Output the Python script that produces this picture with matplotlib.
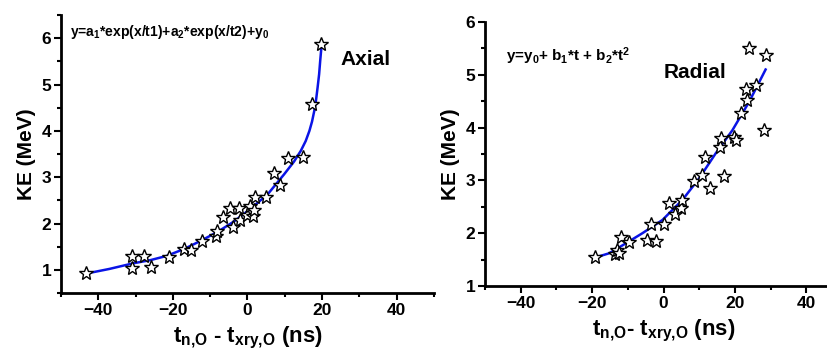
#!/usr/bin/env python3
"""Kinetic energy vs. time-of-flight difference, axial and radial detectors."""

import matplotlib

matplotlib.use("Agg")
import matplotlib.pyplot as plt
from matplotlib.ticker import MultipleLocator

plt.rcParams["font.family"] = ["Liberation Sans", "DejaVu Sans"]
plt.rcParams["font.weight"] = "bold"
plt.rcParams["mathtext.fontset"] = "custom"
plt.rcParams["mathtext.rm"] = "Liberation Sans:bold"
plt.rcParams["mathtext.bf"] = "Liberation Sans:bold"
plt.rcParams["mathtext.it"] = "Liberation Sans:bold"

# Axial data (left panel)
axial_t = [-43.2, -31.0, -31.0, -27.8, -25.8, -21.0, -17.0, -15.2, -12.2,
           -8.4, -8.2, -6.6, -4.6, -4.0, -2.3, -2.1, -0.1, 0.8, 1.4, 1.7,
           1.9, 4.9, 7.1, 8.7, 10.9, 14.8, 17.2, 19.7]
axial_ke = [0.94, 1.30, 1.03, 1.30, 1.07, 1.28, 1.46, 1.43, 1.62,
            1.73, 1.83, 2.15, 2.33, 1.93, 2.33, 2.08, 2.19, 2.37, 2.17, 2.30,
            2.57, 2.58, 3.09, 2.84, 3.41, 3.44, 4.58, 5.88]
axial_fit_t = [-43.2, -37.0, -30.7, -26.0, -21.7, -17.0, -12.7, -8.0, -3.7,
               -0.1, 5.3, 9.8, 12.5, 14.3, 15.6, 16.6, 17.3, 17.9, 18.4,
               18.8, 19.2, 19.5, 19.9]
axial_fit_ke = [0.92, 1.02, 1.14, 1.21, 1.30, 1.45, 1.62, 1.82, 2.04,
                2.26, 2.62, 3.06, 3.34, 3.57, 3.78, 4.00, 4.20, 4.43, 4.68,
                4.94, 5.22, 5.52, 5.88]

# Radial data (right panel)
radial_t = [-19.2, -13.5, -13.1, -12.4, -12.0, -9.6, -4.5, -3.4, -2.0, 0.1,
            1.6, 3.2, 4.8, 5.3, 8.5, 10.9, 11.5, 13.1, 15.7, 16.2, 16.9,
            19.8, 20.4, 21.7, 23.4, 23.2, 26.0, 24.0, 28.6, 28.2]
radial_ke = [1.54, 1.61, 1.68, 1.62, 1.93, 1.84, 1.88, 2.17, 1.85, 2.17,
             2.57, 2.37, 2.47, 2.63, 2.98, 3.10, 3.45, 2.85, 3.64, 3.80, 3.09,
             3.83, 3.77, 4.27, 4.52, 4.73, 4.80, 5.50, 5.37, 3.95]
radial_fit_t = [-19.1, -15.2, -10.5, -5.9, -0.3, 5.3, 10.0, 14.6, 19.3, 24.0, 28.6]
radial_fit_ke = [1.54, 1.62, 1.81, 2.00, 2.25, 2.63, 3.04, 3.51, 3.95, 4.49, 5.10]

W, H = 828, 352
fig = plt.figure(figsize=(W / 100, H / 100), dpi=100)


def px_axes(x0, y_top, x1, y_bot):
    return fig.add_axes([x0 / W, 1 - y_bot / H, (x1 - x0) / W, (y_bot - y_top) / H])


def style(ax, ylim, ymin_step, xlabel):
    ax.set_xlim(-50, 50)
    ax.set_ylim(*ylim)
    for side in ("top", "right"):
        ax.spines[side].set_visible(False)
    for side in ("left", "bottom"):
        ax.spines[side].set_linewidth(2)
    ax.xaxis.set_major_locator(MultipleLocator(20))
    ax.xaxis.set_minor_locator(MultipleLocator(10))
    ax.yaxis.set_major_locator(MultipleLocator(1))
    ax.yaxis.set_minor_locator(MultipleLocator(ymin_step))
    ax.tick_params(which="major", direction="out", length=5, width=1.5,
                   labelsize=12.5, pad=2)
    ax.tick_params(which="minor", direction="out", length=3, width=1.5)
    for lbl in ax.get_xticklabels() + ax.get_yticklabels():
        lbl.set_fontweight("bold")
    ax.set_ylabel("KE (MeV)", fontsize=15, fontweight="bold", labelpad=4)
    ax.set_xlabel(xlabel, fontsize=16, fontweight="bold", labelpad=5)


star_kw = dict(marker="*", linestyle="none", markersize=10.5,
               markerfacecolor="white", markeredgecolor="black",
               markeredgewidth=1.0, zorder=3)

ax1 = px_axes(61, 15, 434, 293)
style(ax1, (0.5, 6.5), 0.5, r"t$_{n{,}O}$ - t$_{xry{,}O}$ (ns)")
ax1.plot(axial_fit_t, axial_fit_ke, color="#0a14e6", linewidth=1.8, zorder=2)
ax1.plot(axial_t, axial_ke, **star_kw)
ax1.text(0.025, 0.94, r"y=a$_1$*exp(x/t1)+a$_2$*exp(x/t2)+y$_0$",
         transform=ax1.transAxes, fontsize=10, fontweight="bold", va="center")
ax1.text(0.75, 0.84, "Axial", transform=ax1.transAxes, fontsize=15,
         fontweight="bold", va="center")

ax2 = px_axes(485, 22, 842, 286)
style(ax2, (1, 6), 0.5, r"t$_{n{,}O}$- t$_{xry{,}O}$ (ns)")
ax2.plot(radial_fit_t, radial_fit_ke, color="#0a14e6", linewidth=1.8, zorder=2)
ax2.plot(radial_t, radial_ke, **star_kw)
ax2.text(0.06, 0.87, r"y=y$_0$+ b$_1$*t + b$_2$*t$^2$",
         transform=ax2.transAxes, fontsize=11, fontweight="bold", va="center")
ax2.text(0.5, 0.81, "Radial", transform=ax2.transAxes, fontsize=15,
         fontweight="bold", va="center")

fig.savefig("out.png", dpi=100)
